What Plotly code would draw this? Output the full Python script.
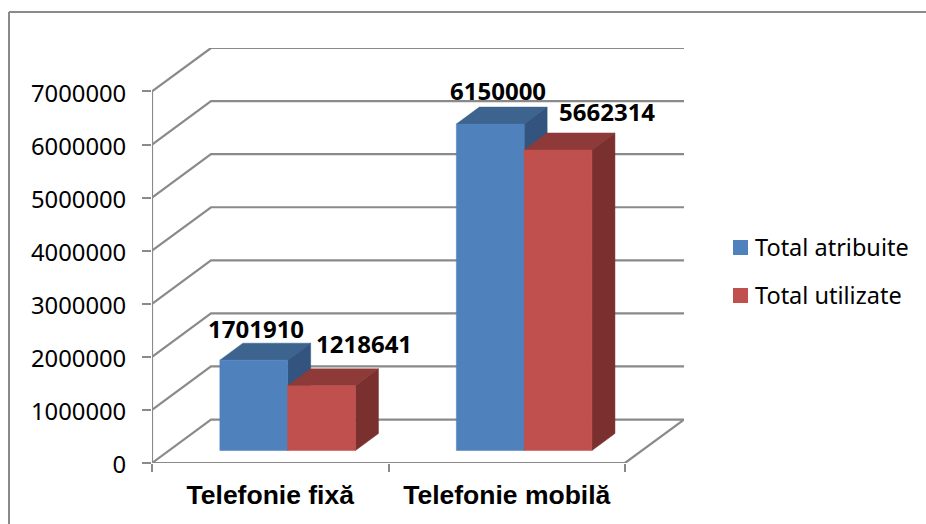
import plotly.graph_objects as go

categories = ["Telefonie fixă", "Telefonie mobilă"]
series_names = ["Total atribuite", "Total utilizate"]
total_atribuite = [1701910, 6150000]
total_utilizate = [1218641, 5662314]
y_ticks = [0, 1000000, 2000000, 3000000, 4000000, 5000000, 6000000, 7000000]

# pixel geometry of the plot frame
W, H = 926, 524
L, R, T, B = 152, 684, 48, 463
PX_PER_CAT = 236.5
PX_PER_UNIT = 53.14 / 1e6
sx = lambda px: px / PX_PER_CAT      # px -> x units
sy = lambda px: px / PX_PER_UNIT     # px -> y units

WALL_DX, WALL_DY = sx(59), sy(43.5)
BAR_DX, BAR_DY = sx(17.4), sy(12.5)
DEPTH_DX, DEPTH_DY = sx(23), sy(17)
BAR_W = sx(67.8)

GRID = "#8A8A8A"
colors = [
    dict(front="#4F81BD", top="#3D638F", side="#32547F"),
    dict(front="#C0504D", top="#8E3A38", side="#7A302E"),
]
label_shift = [[(2, 32), (8, 34)], [(42, 42), (49, 38)]]

fig = go.Figure()


def line(xs, ys, width=2.2):
    fig.add_trace(go.Scatter(x=xs, y=ys, mode="lines", showlegend=False, hoverinfo="skip",
                             cliponaxis=False, line=dict(color=GRID, width=width)))


def poly(xs, ys, color):
    fig.add_trace(go.Scatter(x=xs + xs[:1], y=ys + ys[:1], mode="lines", fill="toself", fillcolor=color,
                             showlegend=False, hoverinfo="skip", cliponaxis=False,
                             line=dict(color=color, width=0.5)))


# walls / gridlines
n = len(categories)
for t in y_ticks:
    line([0, WALL_DX, n + WALL_DX], [t, t + WALL_DY, t + WALL_DY])
line([0, 0], [0, y_ticks[-1]])
line([0, n, n + WALL_DX], [0, 0, WALL_DY])

# bars
annotations = []
for c in range(n):
    for s, vals in enumerate([total_atribuite, total_utilizate]):
        v = vals[c]
        x0 = c + 0.5 + BAR_DX - BAR_W + s * BAR_W
        x1 = x0 + BAR_W
        y0, y1 = BAR_DY, v + BAR_DY
        col = colors[s]
        poly([x0, x1, x1 + DEPTH_DX, x0 + DEPTH_DX], [y1, y1, y1 + DEPTH_DY, y1 + DEPTH_DY], col["top"])
        poly([x1, x1 + DEPTH_DX, x1 + DEPTH_DX, x1], [y0, y0 + DEPTH_DY, y1 + DEPTH_DY, y1], col["side"])
        poly([x0, x1, x1, x0], [y0, y0, y1, y1], col["front"])
        dx, dy = label_shift[s][c]
        annotations.append(dict(x=(x0 + x1) / 2, y=y1, text=str(v), showarrow=False, xshift=dx, yshift=dy,
                                font=dict(family="Noto Sans", size=24, color="#000000", weight="bold")))

# hand-placed legend (swatch + text), positioned in paper space
px = lambda p: (p - L) / (R - L)
py = lambda p: (B - p) / (B - T)
shapes = [
    dict(type="line", xref="paper", yref="paper", x0=px(9), x1=px(9), y0=py(12), y1=py(H),
         line=dict(color=GRID, width=2)),
    dict(type="line", xref="paper", yref="paper", x0=px(9), x1=px(W), y0=py(12), y1=py(12),
         line=dict(color=GRID, width=2)),
]
for s, (name, cy) in enumerate(zip(series_names, [247.5, 295.5])):
    shapes.append(dict(type="rect", xref="paper", yref="paper", x0=px(733), x1=px(748), y0=py(cy - 7.5),
                       y1=py(cy + 7.5), fillcolor=colors[s]["front"], line=dict(width=0)))
    annotations.append(dict(xref="paper", yref="paper", x=px(753), y=py(cy - 1), xanchor="left", yanchor="middle",
                            text=name, showarrow=False,
                            font=dict(family="Noto Sans", size=23.5, color="#000000")))

x_ticks = [i + 0.5 for i in range(n)]
fig.update_layout(
    width=W, height=H, margin=dict(l=L, r=W - R, t=T, b=H - B, pad=0),
    paper_bgcolor="white", plot_bgcolor="white",
    annotations=annotations,
    showlegend=False,
    xaxis=dict(range=[0, n + WALL_DX], tickvals=x_ticks, ticktext=categories, ticks="", showgrid=False,
               zeroline=False, showline=False, ticklabelstandoff=13,
               tickfont=dict(family="Liberation Sans", size=26.5, color="#000000", weight="bold"),
               minor=dict(tickvals=list(range(n + 1)), ticks="outside", ticklen=8, tickwidth=2, tickcolor=GRID,
                          showgrid=False)),
    yaxis=dict(range=[0, y_ticks[-1] + WALL_DY], tickvals=y_ticks, ticktext=[str(t) for t in y_ticks],
               ticks="outside", ticklen=9, tickwidth=2, tickcolor=GRID, showgrid=False, zeroline=False,
               showline=False, ticklabelstandoff=11, ticklabelshift=2,
               tickfont=dict(family="Noto Sans", size=23.8, color="#000000")),
    shapes=shapes,
)
fig.write_html("out.html", config={"displayModeBar": False}, post_script="document.body.style.margin='0';")
